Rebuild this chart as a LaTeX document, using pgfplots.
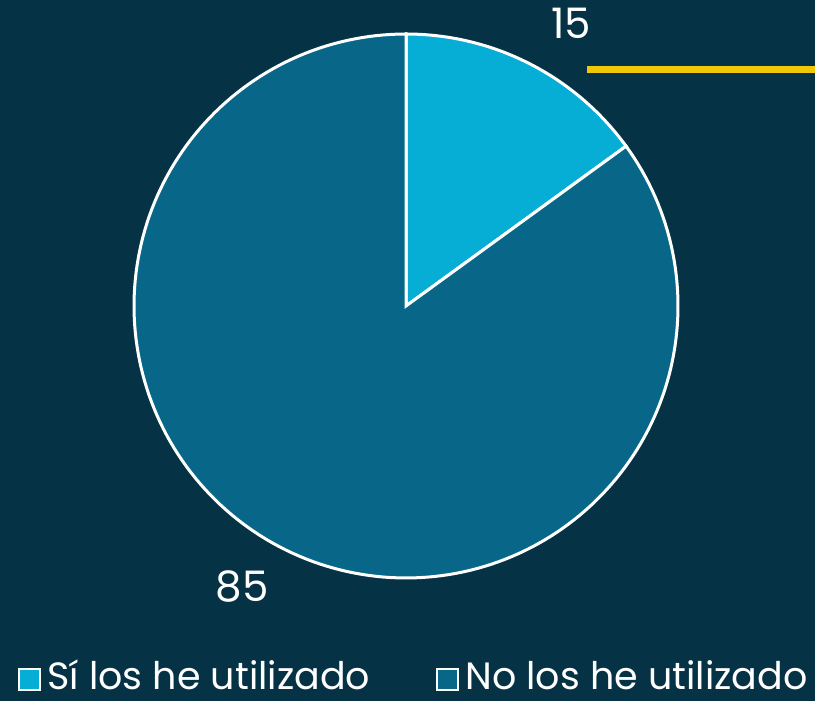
\documentclass[border=0pt]{standalone}
\usepackage{pgfplots}
\pgfplotsset{compat=1.18}
\usepackage{fontspec}
\setmainfont{Poppins}
\definecolor{bg}{RGB}{5,51,69}
\definecolor{cyanA}{RGB}{6,174,213}
\definecolor{blueB}{RGB}{8,103,136}
\definecolor{yel}{RGB}{240,200,8}
\def\valA{15}
\def\valB{85}
\begin{document}
\begin{tikzpicture}[x=0.5pt,y=0.5pt]
\useasboundingbox (0,0) rectangle (815,701);
\fill[bg] (0,0) rectangle (815,701);
\begin{axis}[
  at={(0,0)}, anchor=south west,
  width=407.5pt, height=350.5pt, scale only axis,
  xmin=-1.49265, xmax=1.50368, ymin=-1.45221, ymax=1.125,
  hide axis, clip=false,
  trig format plots=deg,
]
\pgfmathsetmacro{\angA}{90-3.6*\valA}
\addplot[fill=cyanA, draw=white, line width=1.5pt, domain=\angA:90, samples=60]
  ({cos(x)},{sin(x)}) -- (axis cs:0,0) -- cycle;
\addplot[fill=blueB, draw=white, line width=1.5pt, domain=-270:\angA, samples=200]
  ({cos(x)},{sin(x)}) -- (axis cs:0,0) -- cycle;
\addplot[yel, line width=3.5pt] coordinates {(0.6654,0.8676) (1.5037,0.8676)};
\node[text=white, font=\fontsize{21}{22}\selectfont] at (axis cs:0.607,1.04) {15};
\node[text=white, font=\fontsize{21}{22}\selectfont] at (axis cs:-0.603,-1.03) {85};
\end{axis}
% legend
\draw[fill=cyanA, draw=white, line width=1.1pt] (19,11) rectangle (40,32);
\node[anchor=base west, text=white, font=\fontsize{19}{21}\selectfont, inner sep=0pt] at (47,11) {Sí los he utilizado};
\draw[fill=blueB, draw=white, line width=1.1pt] (437,11) rectangle (458,32);
\node[anchor=base west, text=white, font=\fontsize{19}{21}\selectfont, inner sep=0pt] at (465,11) {No los he utilizado};
\end{tikzpicture}
\end{document}
